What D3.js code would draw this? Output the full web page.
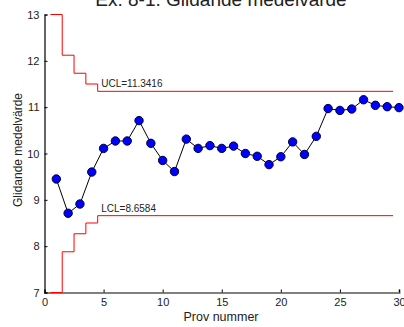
<!DOCTYPE html>
<html>
<head>
<meta charset="utf-8">
<script src="https://cdn.jsdelivr.net/npm/d3@7"></script>
<style>
body { margin: 0; background: #fff; }
svg { display: block; font-family: "Liberation Sans", Arial, sans-serif; }
</style>
</head>
<body>
<svg></svg>
<script>
var sampleNo = [1,2,3,4,5,6,7,8,9,10,11,12,13,14,15,16,17,18,19,20,21,22,23,24,25,26,27,28,29,30];
var movingAvg = [9.45,8.71,8.91,9.60,10.11,10.27,10.27,10.71,10.22,9.85,9.61,10.31,10.11,10.17,10.11,10.16,10.00,9.94,9.76,9.93,10.25,9.98,10.37,10.97,10.93,10.96,11.16,11.04,11.01,10.99];
// control limits per step (span 5), last one holds to the end
var stepX = [0.5,1.5,2.5,3.5,4.5,29.5];
var ucl = [13,12.1213,11.7321,11.5,11.3416];
var lcl = [7,7.8787,8.2679,8.5,8.6584];
var xTicks = [0,5,10,15,20,25,30];
var yTicks = [7,8,9,10,11,12,13];

var svgWidth = 404;
var svgHeight = 327;

var svg = d3.select("svg")
    .attr("width", svgWidth)
    .attr("height", svgHeight);

var xScale = d3.scaleLinear().domain([0,30]).range([44.5,399]);
var yScale = d3.scaleLinear().domain([7,13]).range([292.5,14.5]);

// title (top is cut off in the original)
svg.append("text")
    .attr("x", 221)
    .attr("y", 6)
    .attr("text-anchor", "middle")
    .attr("font-size", "19px")
    .attr("fill", "#222")
    .text("Ex. 8-1. Glidande medelvärde");

// axes
var xAxis = d3.axisBottom(xScale).tickValues(xTicks).tickSize(-3).tickPadding(6).tickFormat(d3.format("d"));
var yAxis = d3.axisLeft(yScale).tickValues(yTicks).tickSize(-3).tickPadding(5).tickFormat(d3.format("d"));

var gx = svg.append("g")
    .attr("transform", "translate(0," + yScale(7) + ")")
    .call(xAxis);
gx.select(".domain").attr("stroke", "#808080").attr("stroke-width", 2);
gx.selectAll(".tick line").attr("stroke", "#000");
gx.selectAll("text").attr("font-size", "11px").attr("fill", "#222").attr("font-family", "Liberation Sans, Arial, sans-serif");

var gy = svg.append("g")
    .attr("transform", "translate(" + xScale(0) + ",0)")
    .call(yAxis);
gy.select(".domain").attr("stroke", "#000").attr("stroke-width", 1.2);
gy.selectAll("text").attr("font-size", "11px").attr("fill", "#222").attr("font-family", "Liberation Sans, Arial, sans-serif");

// control limit stairs
function stairs(vals) {
    var pts = [];
    for (var i = 0; i < vals.length; i++) {
        pts.push([stepX[i], vals[i]]);
        pts.push([stepX[i + 1], vals[i]]);
    }
    return pts;
}
var limLine = d3.line()
    .x(function(d) { return xScale(d[0]); })
    .y(function(d) { return yScale(d[1]); });

[ucl, lcl].forEach(function(vals) {
    svg.append("path")
        .attr("d", limLine(stairs(vals)))
        .attr("fill", "none")
        .attr("stroke", "#ff0000")
        .attr("stroke-width", 1);
});

svg.append("text")
    .attr("x", xScale(4.8))
    .attr("y", yScale(11.3416) - 4)
    .attr("font-size", "10px")
    .attr("fill", "#222")
    .text("UCL=11.3416");
svg.append("text")
    .attr("x", xScale(4.8))
    .attr("y", yScale(8.6584) - 4)
    .attr("font-size", "10px")
    .attr("fill", "#222")
    .text("LCL=8.6584");

// moving average line + markers
var line = d3.line()
    .x(function(d, i) { return xScale(sampleNo[i]); })
    .y(function(d) { return yScale(d); });

svg.append("path")
    .datum(movingAvg)
    .attr("d", line)
    .attr("fill", "none")
    .attr("stroke", "#000")
    .attr("stroke-width", 1);

svg.selectAll("circle")
    .data(movingAvg)
    .enter()
    .append("circle")
    .attr("cx", function(d, i) { return xScale(sampleNo[i]); })
    .attr("cy", function(d) { return yScale(d); })
    .attr("r", 4.2)
    .attr("fill", "#0000ff")
    .attr("stroke", "#000033")
    .attr("stroke-width", 1);

// axis titles
svg.append("text")
    .attr("x", 221)
    .attr("y", 321)
    .attr("text-anchor", "middle")
    .attr("font-size", "12.5px")
    .attr("fill", "#222")
    .text("Prov nummer");

svg.append("text")
    .attr("transform", "translate(22,150) rotate(-90)")
    .attr("text-anchor", "middle")
    .attr("font-size", "12px")
    .attr("fill", "#222")
    .text("Glidande medelvärde");
</script>
</body>
</html>
